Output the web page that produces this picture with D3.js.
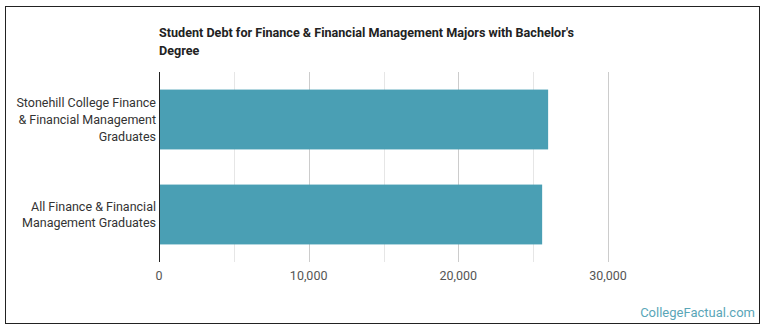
<!DOCTYPE html>
<html>
<head>
<meta charset="utf-8">
<script src="https://cdn.jsdelivr.net/npm/d3@7"></script>
<style>
  body { margin: 0; background: #fff; }
  text { font-family: Roboto, sans-serif; }
</style>
</head>
<body>
<div id="viz-container"></div>
<script>
let width = 770;
let height = 335;

let categories = [
  ['Stonehill College Finance', '& Financial Management', 'Graduates'],
  ['All Finance & Financial', 'Management Graduates']
];
let debtValues = [26000, 25600];
let tickValues = [0, 10000, 20000, 30000];
let minorTicks = [5000, 15000, 25000];

let viz = d3.select('#viz-container')
  .append('svg')
  .attr('width', width)
  .attr('height', height);

// outer frame
viz.append('rect')
  .attr('x', 5.5).attr('y', 6.5)
  .attr('width', 754).attr('height', 317)
  .attr('fill', '#fff')
  .attr('stroke', '#222')
  .attr('stroke-width', 1);

let plotTop = 72, plotBottom = 262, plotLeft = 159;

let xScale = d3.scaleLinear().domain([0, 30000]).range([plotLeft, 608]);
let yScale = d3.scaleBand().domain(d3.range(categories.length)).range([plotTop, plotBottom]).paddingInner(0.37).paddingOuter(0.185);

// grid
viz.selectAll('.minor').data(minorTicks).enter()
  .append('line')
  .attr('x1', d => Math.round(xScale(d)) + 0.5)
  .attr('x2', d => Math.round(xScale(d)) + 0.5)
  .attr('y1', plotTop).attr('y2', plotBottom)
  .attr('stroke', '#e6e6e6');

viz.selectAll('.major').data(tickValues.slice(1)).enter()
  .append('line')
  .attr('x1', d => Math.round(xScale(d)) + 0.5)
  .attr('x2', d => Math.round(xScale(d)) + 0.5)
  .attr('y1', plotTop).attr('y2', plotBottom)
  .attr('stroke', '#cccccc');

// bars
viz.selectAll('.bar').data(debtValues).enter()
  .append('rect')
  .attr('x', xScale(0))
  .attr('y', (d, i) => yScale(i))
  .attr('width', d => xScale(d) - xScale(0))
  .attr('height', yScale.bandwidth())
  .attr('fill', '#4a9fb4');

// y axis line
viz.append('line')
  .attr('x1', plotLeft + 0.5).attr('x2', plotLeft + 0.5)
  .attr('y1', plotTop).attr('y2', plotBottom)
  .attr('stroke', '#222');

// category labels
categories.forEach(function(lines, i) {
  let cy = yScale(i) + yScale.bandwidth() / 2;
  let lh = 16.7;
  let t = viz.append('text')
    .attr('text-anchor', 'end')
    .attr('font-size', 12.5)
    .attr('fill', '#333');
  lines.forEach(function(l, j) {
    t.append('tspan')
      .attr('x', plotLeft - 3)
      .attr('y', cy + (j - (lines.length - 1) / 2) * lh + 4.5)
      .text(l);
  });
});

// tick labels
viz.selectAll('.tick').data(tickValues).enter()
  .append('text')
  .attr('x', d => xScale(d))
  .attr('y', 280)
  .attr('text-anchor', 'middle')
  .attr('font-size', 12.5)
  .attr('fill', '#555')
  .text(d => d3.format(',')(d));

// title
let title = viz.append('text')
  .attr('font-size', 12.6)
  .attr('font-weight', 'bold')
  .attr('fill', '#222');
title.append('tspan').attr('x', plotLeft).attr('y', 37)
  .text("Student Debt for Finance & Financial Management Majors with Bachelor's");
title.append('tspan').attr('x', plotLeft).attr('y', 55)
  .text('Degree');

// watermark
viz.append('text')
  .attr('x', 755).attr('y', 317)
  .attr('text-anchor', 'end')
  .attr('font-size', 13)
  .attr('fill', '#5aa6b8')
  .text('CollegeFactual.com');
</script>
</body>
</html>
